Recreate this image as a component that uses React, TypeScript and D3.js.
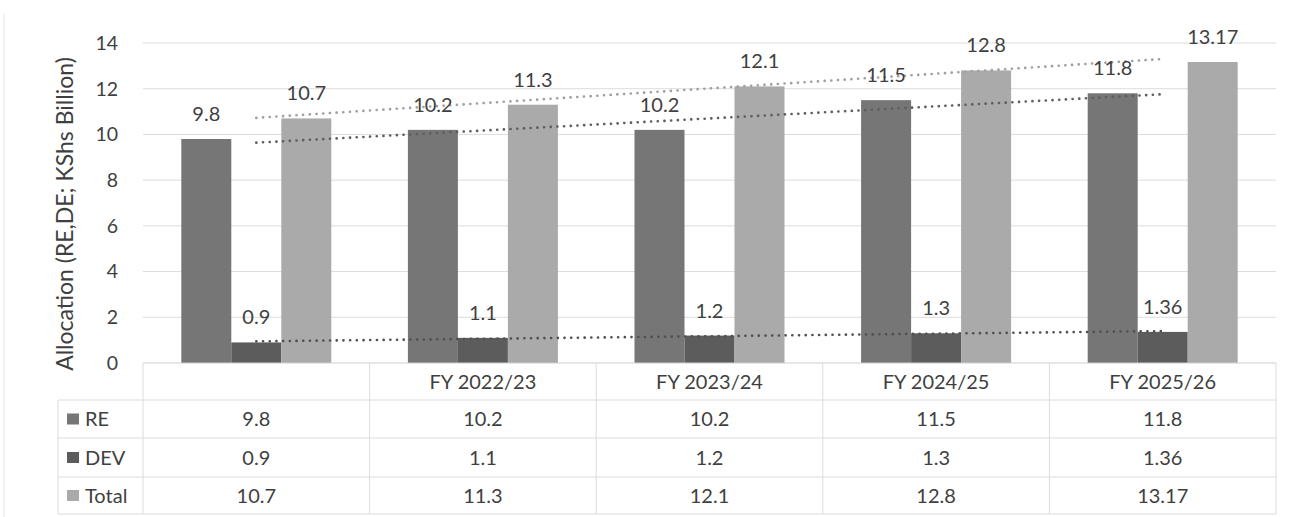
import React from "react";
import * as d3 from "d3";

const categories = ["", "FY 2022/23", "FY 2023/24", "FY 2024/25", "FY 2025/26"];
const seriesNames = ["RE", "DEV", "Total"];
const reValues = [9.8, 10.2, 10.2, 11.5, 11.8];
const devValues = [0.9, 1.1, 1.2, 1.3, 1.36];
const totalValues = [10.7, 11.3, 12.1, 12.8, 13.17];
const reLabels = ["9.8", "10.2", "10.2", "11.5", "11.8"];
const devLabels = ["0.9", "1.1", "1.2", "1.3", "1.36"];
const totalLabels = ["10.7", "11.3", "12.1", "12.8", "13.17"];
const yTicks = [0, 2, 4, 6, 8, 10, 12, 14];
const yTitle = "Allocation (RE,DE; KShs Billion)";

const barColors = ["#767676", "#5c5c5c", "#aaaaaa"];
const trendColors = ["#5e5e5e", "#505050", "#a0a0a0"];
const FONT = "Lato, 'Open Sans', sans-serif";
const TEXT = "#3f3f3f";
const GRID = "#dcdcdc";

function linReg(vals: number[]) {
  const xs = vals.map((_, i) => i + 1);
  const mx = d3.mean(xs)!;
  const my = d3.mean(vals)!;
  let num = 0, den = 0;
  xs.forEach((x, i) => { num += (x - mx) * (vals[i] - my); den += (x - mx) ** 2; });
  const slope = num / den;
  const b = my - slope * mx;
  return (x: number) => b + slope * x;
}

export default function App() {
  const W = 1298, H = 517;
  const left = 143, right = 1276;
  const y = d3.scaleLinear().domain([0, 14]).range([363, 43]);
  const x = d3.scaleBand<string>().domain(categories.map((c, i) => String(i))).range([left, right]).padding(0);
  const bw = x.bandwidth();
  const gap = bw * 0.338;
  const inner = d3.scaleBand<string>().domain(seriesNames).range([gap / 2, bw - gap / 2]).padding(0);
  const seriesVals = [reValues, devValues, totalValues];
  const seriesLabels = [reLabels, devLabels, totalLabels];

  const rowTops = [363, 400, 438, 477, 514];
  const tableLeft = 58;
  const FS = 20;

  return (
    <svg width={W} height={H} style={{ position: "absolute", left: 0, top: 0, background: "#fff" }} fontFamily={FONT}>
      <line x1={4} x2={4} y1={14} y2={H} stroke="#e4e4e4" strokeWidth={1} />
      {yTicks.filter((t) => t > 0).map((t) => (
        <line key={t} x1={left} x2={right} y1={y(t)} y2={y(t)} stroke={GRID} strokeWidth={1} />
      ))}
      {yTicks.map((t) => (
        <text key={t} x={118} y={y(t)} dy="0.35em" textAnchor="end" fontSize={19.5} fill={TEXT}>{t}</text>
      ))}
      <text transform={`translate(73,214) rotate(-90)`} textAnchor="middle" fontSize={23} fill={TEXT}>{yTitle}</text>
      {categories.map((c, i) => (
        <g key={i} transform={`translate(${x(String(i))},0)`}>
          {seriesNames.map((s, si) => {
            const v = seriesVals[si][i];
            return (
              <rect key={s} x={inner(s)} y={y(v)} width={inner.bandwidth()} height={y(0) - y(v)} fill={barColors[si]} />
            );
          })}
        </g>
      ))}
      {seriesVals.map((vals, si) => {
        const f = linReg(vals);
        const x1 = x("0")! + bw / 2;
        const x2 = x(String(categories.length - 1))! + bw / 2;
        return (
          <line key={si} x1={x1} x2={x2} y1={y(f(1))} y2={y(f(vals.length))}
            stroke={trendColors[si]} strokeWidth={2.6} strokeDasharray="0.1 6.6" strokeLinecap="round" />
        );
      })}
      {categories.map((c, i) => (
        <g key={i} transform={`translate(${x(String(i))},0)`}>
          {seriesNames.map((s, si) => {
            const v = seriesVals[si][i];
            return (
              <text key={s} x={inner(s)! + inner.bandwidth() / 2} y={y(v) - 18} textAnchor="middle" fontSize={FS} fill={TEXT}>
                {seriesLabels[si][i]}
              </text>
            );
          })}
        </g>
      ))}
      <line x1={left} x2={right} y1={rowTops[0]} y2={rowTops[0]} stroke="#cfcfcf" strokeWidth={1} />
      {rowTops.slice(1).map((ry, k) => (
        <line key={k} x1={tableLeft} x2={right} y1={ry} y2={ry} stroke={GRID} strokeWidth={1} />
      ))}
      <line x1={tableLeft} x2={tableLeft} y1={rowTops[1]} y2={rowTops[4]} stroke={GRID} strokeWidth={1} />
      {categories.map((c, i) => (
        <line key={i} x1={x(String(i))} x2={x(String(i))} y1={rowTops[0]} y2={rowTops[4]} stroke={GRID} strokeWidth={1} />
      ))}
      <line x1={right} x2={right} y1={rowTops[0]} y2={rowTops[4]} stroke={GRID} strokeWidth={1} />
      {categories.map((c, i) => (
        <text key={i} x={x(String(i))! + bw / 2} y={(rowTops[0] + rowTops[1]) / 2} dy="0.35em" textAnchor="middle" fontSize={FS} fill={TEXT}>{c}</text>
      ))}
      {seriesNames.map((s, si) => {
        const cy = (rowTops[si + 1] + rowTops[si + 2]) / 2;
        return (
          <g key={s}>
            <rect x={67} y={cy - 5.5} width={12} height={11} fill={barColors[si]} />
            <text x={85} y={cy} dy="0.35em" fontSize={FS} fill={TEXT}>{s}</text>
            {categories.map((c, i) => (
              <text key={i} x={x(String(i))! + bw / 2} y={cy} dy="0.35em" textAnchor="middle" fontSize={FS} fill={TEXT}>
                {seriesLabels[si][i]}
              </text>
            ))}
          </g>
        );
      })}
    </svg>
  );
}
